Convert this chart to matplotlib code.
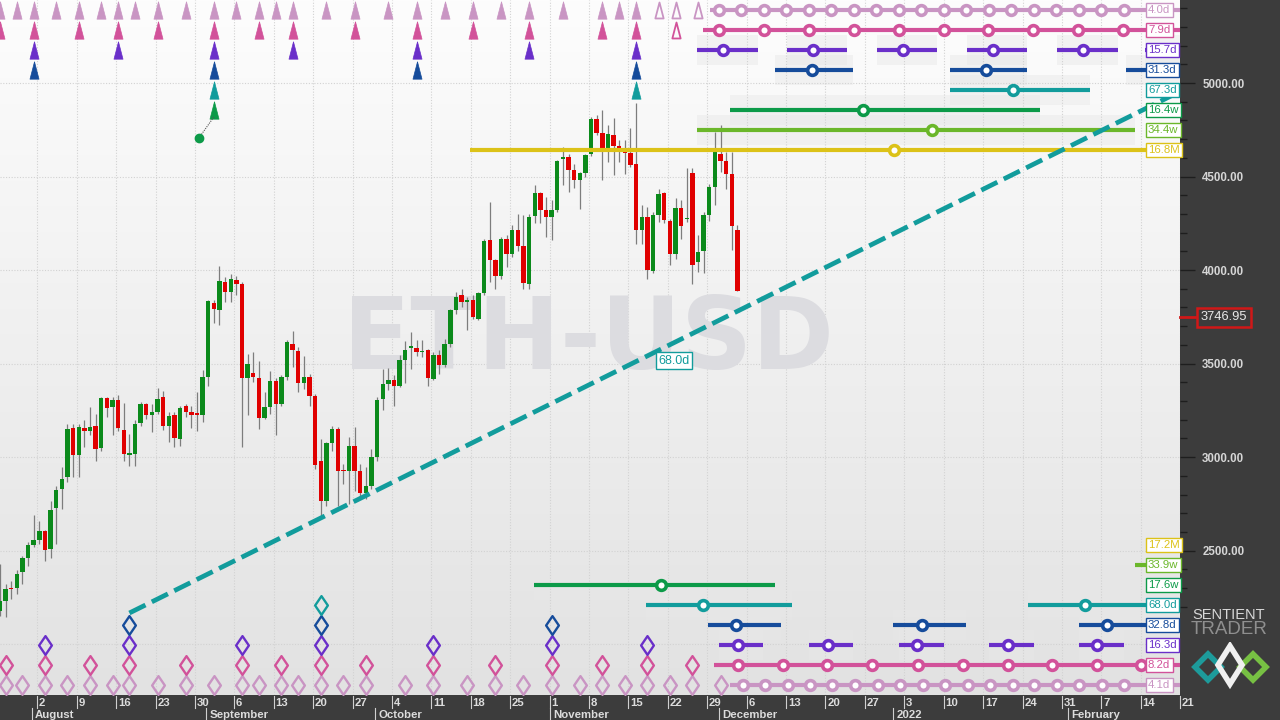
import matplotlib
matplotlib.use("Agg")
import matplotlib.pyplot as plt
import matplotlib.dates as mdates
from matplotlib.colors import LinearSegmentedColormap
from matplotlib.patches import Rectangle, Polygon
from matplotlib.path import Path
from matplotlib.transforms import blended_transform_factory
import numpy as np
import pandas as pd

plt.rcParams['font.family'] = ['Liberation Sans', 'DejaVu Sans']

# ---------------- data ----------------
first_day = '2021-07-26'   # daily ETH-USD candles, last one 2021-12-04

opens = [2179, 2233, 2303, 2300, 2384, 2461, 2530,
         2557, 2607, 2508, 2729, 2830, 2893, 3157,
         3012, 3157, 3142, 3164, 3048, 3317, 3267,
         3307, 3146, 3012, 3017, 3182, 3282, 3225,
         3239, 3324, 3169, 3228, 3096, 3271, 3244,
         3228, 3228, 3428, 3824, 3785, 3935, 3881,
         3949, 3924, 3423, 3448, 3421, 3208, 3268,
         3405, 3283, 3428, 3606, 3565, 3396, 3431,
         3326, 2977, 2764, 3075, 3151, 2928, 2925,
         3062, 2928, 2809, 2848, 3000, 3311, 3389,
         3414, 3380, 3517, 3583, 3583, 3560, 3571,
         3417, 3544, 3490, 3603, 3785, 3865, 3829,
         3842, 3740, 3878, 4160, 4052, 3969, 4168,
         4085, 4213, 4129, 3928, 4288, 4413, 4320,
         4284, 4320, 4593, 4605, 4534, 4481, 4520,
         4618, 4807, 4734, 4654, 4722, 4663, 4641,
         4627, 4566, 4213, 4284, 3995, 4293, 4413,
         4263, 4085, 4334, 4272, 4520, 4043, 4102,
         4293, 4445, 4623, 4584, 4513, 4213]
highs = [2429, 2322, 2340, 2397, 2474, 2545, 2693,
         2661, 2611, 2764, 2848, 2946, 3178, 3178,
         3178, 3196, 3267, 3232, 3321, 3324, 3321,
         3330, 3289, 3125, 3196, 3294, 3289, 3285,
         3371, 3353, 3241, 3241, 3276, 3285, 3276,
         3348, 3464, 3838, 3838, 4020, 3963, 3978,
         3967, 3937, 3553, 3562, 3512, 3348, 3460,
         3423, 3437, 3624, 3672, 3589, 3539, 3446,
         3335, 3098, 3080, 3169, 3160, 2964, 3107,
         3160, 2964, 2946, 3044, 3321, 3473, 3478,
         3437, 3545, 3620, 3669, 3624, 3628, 3580,
         3562, 3571, 3633, 3794, 3883, 3901, 3856,
         3865, 3883, 4168, 4365, 4061, 4177, 4186,
         4240, 4300, 4293, 4302, 4454, 4418, 4391,
         4374, 4588, 4659, 4623, 4566, 4525, 4623,
         4820, 4829, 4855, 4775, 4811, 4698, 4695,
         4757, 4891, 4347, 4338, 4311, 4431, 4418,
         4275, 4383, 4374, 4543, 4543, 4186, 4311,
         4459, 4739, 4775, 4632, 4632, 4240]
lows = [2150, 2143, 2242, 2268, 2322, 2420, 2518,
        2536, 2447, 2461, 2536, 2723, 2866, 2893,
        2893, 3053, 3116, 2978, 3035, 3214, 3116,
        3142, 2982, 2955, 2955, 3169, 3205, 3133,
        3230, 3146, 3080, 3053, 3057, 3214, 3157,
        3142, 3187, 3378, 3717, 3705, 3829, 3829,
        3865, 3053, 3223, 3401, 3151, 3205, 3232,
        3116, 3271, 3410, 3482, 3348, 3365, 3276,
        2937, 2670, 2741, 3035, 2741, 2857, 2750,
        2821, 2786, 2777, 2830, 2978, 3253, 3357,
        3276, 3374, 3395, 3472, 3539, 3535, 3383,
        3410, 3446, 3481, 3588, 3767, 3803, 3678,
        3740, 3731, 3865, 3936, 3901, 3954, 4017,
        4070, 4100, 3901, 3901, 4249, 4249, 4177,
        4160, 4311, 4454, 4418, 4441, 4329, 4499,
        4609, 4722, 4481, 4579, 4507, 4579, 4513,
        4552, 4142, 4142, 3954, 3985, 4258, 4249,
        4026, 4061, 4168, 4258, 3928, 3990, 3985,
        4260, 4347, 4525, 4431, 4106, 3886]
closes = [2233, 2295, 2293, 2375, 2461, 2532, 2557,
          2607, 2504, 2718, 2827, 2884, 3151, 3012,
          3160, 3139, 3160, 3043, 3317, 3262, 3307,
          3157, 3017, 3021, 3178, 3282, 3225, 3239,
          3310, 3169, 3221, 3101, 3264, 3239, 3223,
          3225, 3431, 3833, 3792, 3940, 3885, 3951,
          3926, 3423, 3496, 3426, 3208, 3266, 3405,
          3283, 3426, 3613, 3574, 3396, 3431, 3326,
          2959, 2764, 3075, 3151, 2928, 2925, 3057,
          2928, 2809, 2848, 3000, 3303, 3389, 3414,
          3380, 3517, 3574, 3589, 3562, 3570, 3424,
          3544, 3490, 3603, 3785, 3856, 3829, 3842,
          3749, 3878, 4156, 4052, 3969, 4168, 4088,
          4213, 4129, 3931, 4284, 4413, 4320, 4284,
          4320, 4584, 4605, 4534, 4481, 4520, 4615,
          4807, 4734, 4654, 4727, 4663, 4650, 4627,
          4561, 4213, 4284, 3999, 4293, 4406, 4267,
          4085, 4334, 4234, 4272, 4029, 4094, 4293,
          4445, 4632, 4584, 4513, 4234, 3887]
last_price = 3746.95

# trough markers at the top (month-day 2021), solid and hollow (pending)
tri_40d = ['07-26', '07-29', '08-01', '08-05', '08-09', '08-13', '08-16', '08-19',
           '08-23', '08-28', '09-02', '09-06', '09-10', '09-13', '09-16', '09-22',
           '09-27', '10-03', '10-08', '10-13', '10-18', '10-23', '10-28', '11-03',
           '11-10', '11-13', '11-16']
tri_40d_open = ['11-20', '11-23', '11-27']
tri_79d = ['07-26', '08-01', '08-09', '08-16', '08-23', '09-02', '09-10', '09-16',
           '09-27', '10-08', '10-18', '10-28', '11-10', '11-16']
tri_79d_open = ['11-23']
tri_157d = ['08-01', '08-16', '09-02', '09-16', '10-08', '10-28', '11-16']
tri_313d = ['08-01', '09-02', '10-08', '11-16']
tri_673d = ['09-02', '11-16']
tri_164w = ['09-02']
dot_164w_day = 28.7      # days after 2021-08-02

# peak markers at the bottom
dia_41d = ['07-27', '07-30', '08-03', '08-07', '08-11', '08-15', '08-18', '08-23',
           '08-28', '09-02', '09-07', '09-10', '09-14', '09-17', '09-21', '09-25',
           '09-29', '10-06', '10-11', '10-17', '10-22', '10-27', '11-01', '11-06',
           '11-10', '11-14', '11-18', '11-22', '11-26', '12-01']
dia_82d = ['07-27', '08-03', '08-11', '08-18', '08-28', '09-07', '09-14', '09-21',
           '09-29', '10-11', '10-22', '11-01', '11-10', '11-18', '11-26']
dia_163d = ['08-03', '08-18', '09-07', '09-21', '10-11', '11-01', '11-18']
dia_328d = ['08-18', '09-21', '11-01']
dia_680d = ['09-21']

# projected cycle ranges and centres, in days after 2021-08-02 (END = right edge)
END = 203.0
seg_40d = [(119.5, END)]
circ_40d = [121, 125, 129, 133, 137, 141, 145, 149, 153, 157, 161, 165, 169, 173,
            177, 181, 185, 189, 193]
seg_79d = [(118.2, END)]
circ_79d = [121.1, 129.1, 137.1, 145.1, 153.0, 161.0, 168.8, 176.8, 184.8, 192.8]
seg_157d = [(117.2, 128.0), (133.2, 143.8), (149.2, 159.8), (165.1, 175.8),
            (181.1, 191.9), (196.8, END)]
circ_157d = [121.8, 137.8, 153.8, 169.8, 185.7]
seg_313d = [(131.0, 144.9), (162.1, 175.8), (193.4, END)]
circ_313d = [137.6, 168.5]
seg_673d = [(162.1, 187.0)]
circ_673d = [173.3]
seg_164w = [(123.0, 178.1)]
circ_164w = [146.7]
seg_344w = [(117.2, 194.9)]
circ_344w = [158.9]
seg_168M = [(76.9, END)]
circ_168M = [152.2]

seg_172M = []
circ_172M = []
seg_339w = [(194.9, END)]
circ_339w = []
seg_176w = [(88.2, 131.0)]
circ_176w = [110.8]
seg_680d = [(108.1, 134.0), (176.0, END)]
circ_680d = [118.3, 186.1]
seg_328d = [(119.1, 132.1), (152.0, 164.9), (185.0, END)]
circ_328d = [124.1, 157.1, 190.0]
seg_163d = [(121.1, 128.9), (137.1, 144.9), (153.1, 161.0), (169.0, 177.0),
            (185.0, 193.0), (201.3, END)]
circ_163d = [124.5, 140.4, 156.3, 172.4, 188.2]
seg_82d = [(120.2, END)]
circ_82d = [124.5, 132.5, 140.3, 148.3, 156.4, 164.4, 172.4, 180.3, 188.2, 196.0]
seg_41d = [(123.0, END)]
circ_41d = [125.4, 129.3, 133.3, 137.3, 141.1, 145.2, 149.3, 153.2, 157.3, 161.2,
            165.3, 169.3, 173.3, 177.1, 181.1, 185.0, 189.1, 193.0]

# long-term trend line (68.0d)
trend_days = [16.36, 202.4]
trend_prices = [2167, 4946]
trend_label_day, trend_label_price = 113.1, 3514

# ---------------- styling ----------------
LPINK, PINK, PURPLE = '#c995c3', '#d2529a', '#6a2fc9'
NAVY, TEAL, GREEN_C = '#164c9b', '#129c9c', '#0c9a48'
LGREEN, YELLOW = '#6bb72a', '#dcc218'
UP, DOWN = '#0b8a1b', '#e00000'
PANEL = '#3c3c3c'

BASE = mdates.date2num(pd.Timestamp('2021-08-02'))
SHIFT = 0.36
H = 695.0


def md(s):
    return mdates.date2num(pd.Timestamp('2021-' + s)) + SHIFT


def yf(px):
    return 1 - px / H


def closed_marker(pts):
    verts = pts + [pts[0]]
    codes = [Path.MOVETO] + [Path.LINETO] * (len(pts) - 1) + [Path.CLOSEPOLY]
    return Path(verts, codes)


tri = closed_marker([(-0.52, -1), (0.52, -1), (0, 1)])
dia = closed_marker([(0, 1), (0.68, 0), (0, -1), (-0.68, 0)])

fig = plt.figure(figsize=(12.8, 7.2), dpi=100)
fig.patch.set_facecolor(PANEL)
ax = fig.add_axes([0, 25 / 720, 1180 / 1280, 695 / 720])
tr = blended_transform_factory(ax.transData, ax.transAxes)

bg = LinearSegmentedColormap.from_list('bg', ['#fdfdfd', '#e2e2e2'])
ax.imshow(np.linspace(0, 1, 256).reshape(-1, 1), cmap=bg, extent=[0, 1, 0, 1],
          transform=ax.transAxes, aspect='auto', zorder=0)

xmin, xmax = BASE - 6.625, BASE + 202.97
ymin, ymax = 1728.6, 5443.7

# grid
mondays = pd.date_range('2021-08-02', '2022-02-21', freq='7D')
for m in mondays:
    ax.axvline(mdates.date2num(m), color='#d2d2d2', lw=0.8, ls=(0, (1, 1.5)), zorder=1)
for p in [2000, 2500, 3000, 3500, 4000, 4500, 5000]:
    ax.axhline(p, color='#d2d2d2', lw=0.8, ls=(0, (1, 1.5)), zorder=1)

ax.text(0.499, yf(369), 'ETH-USD', transform=ax.transAxes, ha='center', va='baseline',
        fontsize=71, fontweight='bold', family='DejaVu Sans', color='#dcdce0', zorder=2)

# projections
top_rows = [('4.0d', LPINK, 10, seg_40d, circ_40d),
            ('7.9d', PINK, 30, seg_79d, circ_79d),
            ('15.7d', PURPLE, 50, seg_157d, circ_157d),
            ('31.3d', NAVY, 70, seg_313d, circ_313d),
            ('67.3d', TEAL, 90, seg_673d, circ_673d),
            ('16.4w', GREEN_C, 110, seg_164w, circ_164w),
            ('34.4w', LGREEN, 130, seg_344w, circ_344w),
            ('16.8M', YELLOW, 150, seg_168M, circ_168M)]
bottom_rows = [('17.2M', YELLOW, 545, seg_172M, circ_172M),
               ('33.9w', LGREEN, 565, seg_339w, circ_339w),
               ('17.6w', GREEN_C, 585, seg_176w, circ_176w),
               ('68.0d', TEAL, 605, seg_680d, circ_680d),
               ('32.8d', NAVY, 625, seg_328d, circ_328d),
               ('16.3d', PURPLE, 645, seg_163d, circ_163d),
               ('8.2d', PINK, 665, seg_82d, circ_82d),
               ('4.1d', LPINK, 685, seg_41d, circ_41d)]
shaded = {'15.7d', '31.3d', '67.3d', '16.4w', '34.4w', '17.6w', '68.0d', '32.8d', '16.3d'}

for label, col, py, segs, circs in top_rows + bottom_rows:
    for a, b in segs:
        if label in shaded:
            ax.add_patch(Rectangle((BASE + a, yf(py + 15)), b - a, 30 / H, transform=tr,
                                   fc='#e8e8e8', alpha=0.45, lw=0, zorder=0.5))
        ax.plot([BASE + a, BASE + b], [yf(py)] * 2, color=col, lw=3,
                solid_capstyle='butt', transform=tr, zorder=6)
    ax.plot(BASE + np.array(circs, dtype=float), [yf(py)] * len(circs), 'o', ms=7,
            mfc='white', mec=col, mew=2.6, ls='none', transform=tr, zorder=7)
    ax.text(1148 / 1180, yf(py), label, transform=ax.transAxes, ha='left', va='center',
            fontsize=8.2, color=col, zorder=9,
            bbox=dict(boxstyle='square,pad=0.2', fc='white', ec=col, lw=1))

# trough triangles
tri_rows = [(tri_40d, tri_40d_open, LPINK, 10), (tri_79d, tri_79d_open, PINK, 30),
            (tri_157d, [], PURPLE, 50), (tri_313d, [], NAVY, 70),
            (tri_673d, [], TEAL, 90), (tri_164w, [], GREEN_C, 110)]
for solid, hollow, col, py in tri_rows:
    xs = [md(s) for s in solid]
    ax.plot(xs, [yf(py)] * len(xs), marker=tri, ms=12.5, color=col, mew=0.5, ls='none',
            transform=tr, zorder=6)
    xs = [md(s) for s in hollow]
    ax.plot(xs, [yf(py)] * len(xs), marker=tri, ms=11.5, mfc='none', mec=col, mew=1.3,
            ls='none', transform=tr, zorder=6)
ax.plot([BASE + dot_164w_day, md(tri_164w[0])], [yf(138), yf(117)], color='#555555',
        lw=0.8, ls=(0, (1, 1)), transform=tr, zorder=6)
ax.plot([BASE + dot_164w_day], [yf(138)], 'o', ms=6, color=GREEN_C, transform=tr, zorder=7)

# peak diamonds
dia_rows = [(dia_41d, LPINK, 685), (dia_82d, PINK, 665), (dia_163d, PURPLE, 645),
            (dia_328d, NAVY, 625), (dia_680d, TEAL, 605)]
for dates, col, py in dia_rows:
    xs = [md(s) for s in dates]
    ax.plot(xs, [yf(py)] * len(xs), marker=dia, ms=13.5, mfc='none', mec=col, mew=1.7,
            ls='none', transform=tr, zorder=6)

# trend line
ax.plot(BASE + np.array(trend_days), trend_prices, color=TEAL, lw=3.4,
        ls=(0, (3.8, 1.5)), dash_capstyle='butt', zorder=6)
ax.text(BASE + trend_label_day, trend_label_price, '68.0d', ha='center', va='center',
        fontsize=9, color=TEAL, zorder=9,
        bbox=dict(boxstyle='square,pad=0.2', fc='white', ec=TEAL, lw=1))

# candles
days = mdates.date2num(pd.date_range(first_day, periods=len(opens), freq='D')) + SHIFT
o, h, l, c = (np.array(v, dtype=float) for v in (opens, highs, lows, closes))
up = c >= o
ax.vlines(days, l, h, color='#7d7d7d', lw=0.9, zorder=4)
ax.bar(days, np.maximum(np.abs(c - o), 9), bottom=np.minimum(o, c), width=0.78,
       color=np.where(up, UP, DOWN), lw=0, zorder=5)

ax.set_xlim(xmin, xmax)
ax.set_ylim(ymin, ymax)
for s in ax.spines.values():
    s.set_visible(False)

# price axis
ax.yaxis.tick_right()
ax.set_xticks([])
ax.set_yticks([2500, 3000, 3500, 4000, 4500, 5000])
ax.set_yticklabels(['%.2f' % v for v in [2500, 3000, 3500, 4000, 4500, 5000]])
ax.set_yticks(np.arange(2200, 5500, 100), minor=True)
ax.tick_params(axis='y', which='major', length=11, width=1, color='#1e1e1e', pad=5,
               labelcolor='#d6d6d6', labelsize=8.3)
ax.tick_params(axis='y', which='minor', length=5, width=1, color='#1e1e1e')
for t in ax.get_yticklabels():
    t.set_fontweight('bold')

# current price tag
ptr = blended_transform_factory(ax.transAxes, ax.transData)
ax.plot([1.0, 1195 / 1180], [last_price] * 2, color='#d01818', lw=2, transform=ptr,
        clip_on=False, zorder=9)
ax.text(1224 / 1180, last_price, '%.2f' % last_price, transform=ptr, ha='center',
        va='center', fontsize=9.3, color='#e8e8e8', clip_on=False, zorder=10,
        bbox=dict(boxstyle='square,pad=0.3', fc=PANEL, ec='#d01818', lw=1.8))

# date band
btr = blended_transform_factory(ax.transData, fig.transFigure)
for m in mondays:
    x = mdates.date2num(m)
    ax.plot([x, x], [1 - 696 / 720, 1 - 708 / 720], color='#d0d0d0', lw=0.8,
            transform=btr, clip_on=False)
    ax.text(x + 0.3, 1 - 703 / 720, str(m.day), transform=btr, ha='left', va='center',
            fontsize=8.2, fontweight='bold', color='#dcdcdc', clip_on=False)
months = ['2021-08-01', '2021-09-01', '2021-10-01', '2021-11-01', '2021-12-01',
          '2022-01-01', '2022-02-01']
month_names = ['August', 'September', 'October', 'November', 'December', '2022', 'February']
for m, name in zip(months, month_names):
    x = mdates.date2num(pd.Timestamp(m))
    ax.plot([x, x], [1 - 708 / 720, 0], color='#d0d0d0', lw=0.8, transform=btr,
            clip_on=False)
    ax.text(x + 0.6, 1 - 715.5 / 720, name, transform=btr, ha='left', va='center',
            fontsize=8.2, fontweight='bold', color='#dcdcdc', clip_on=False)

# logo
fig.text(1229 / 1280, 1 - 615 / 720, 'SENTIENT', ha='center', va='center',
         fontsize=10.5, color='#d8d8d8')
fig.text(1229 / 1280, 1 - 630 / 720, 'TRADER', ha='center', va='center',
         fontsize=13.5, color='#8f8f8f')
lg = fig.add_axes([1190 / 1280, 28 / 720, 80 / 1280, 50 / 720])
lg.set_xlim(0, 80)
lg.set_ylim(0, 50)
lg.axis('off')
lg.add_patch(Polygon([(5, 25), (18, 38), (31, 25), (18, 12)], closed=True, fill=False,
                     ec='#1d9b9b', lw=4))
lg.add_patch(Polygon([(50, 25), (63, 38), (76, 25), (63, 12)], closed=True, fill=False,
                     ec='#77c043', lw=4))
lg.add_patch(Polygon([(28, 27), (40, 46), (52, 27), (40, 8)], closed=True, fill=False,
                     ec='#f0f0f0', lw=4))

fig.savefig('out.png', dpi=100, facecolor=fig.get_facecolor())
